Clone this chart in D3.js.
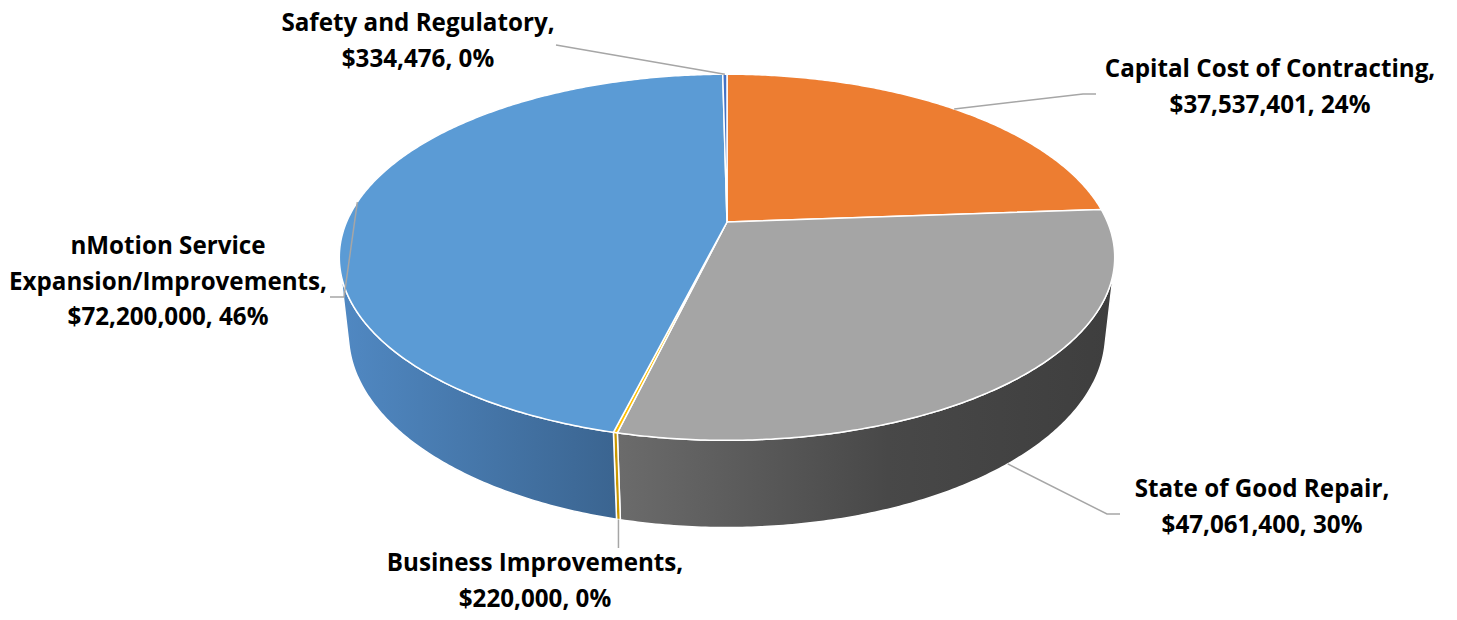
<!DOCTYPE html>
<html><head><meta charset="utf-8">
<script src="https://cdn.jsdelivr.net/npm/d3@7/dist/d3.min.js"></script>
<style>html,body{margin:0;padding:0;background:#fff;}svg{display:block;}</style>
</head><body>
<svg id="chart" width="1457" height="620"></svg>
<script>
// ---- data ----
const categories = ["Capital Cost of Contracting", "State of Good Repair", "Business Improvements", "nMotion Service Expansion/Improvements", "Safety and Regulatory"];
const values = [37537401, 47061400, 220000, 72200000, 334476];
const nameLines = [["Capital Cost of Contracting,"], ["State of Good Repair,"], ["Business Improvements,"], ["nMotion Service", "Expansion/Improvements,"], ["Safety and Regulatory,"]];
const topColors = ["#ED7D31", "#A5A5A5", "#FFC000", "#5B9BD5", "#4472C4"];
const sideStops = [
  [["0", "#B65F25"], ["1", "#8E4A1C"]],
  [["0", "#6C6C6C"], ["0.55", "#484848"], ["1", "#3E3E3E"]],
  [["0", "#C99700"], ["1", "#C99700"]],
  [["0", "#5088C2"], ["1", "#3B6591"]],
  [["0", "#35599A"], ["1", "#35599A"]]
];
// layout of labels: center x, first baseline y; leader path (elbow, end)
const labelPos = [[1270, 77], [1262, 497], [535, 571], [168, 254], [418, 31]];
const leaderPts = [[[1083, 94], [1096, 94]], [[1107, 514], [1120, 514]], [null, [0, 548]], [[344, 297], [330, 297]], [[556, 45]]];
const anchorOnBottom = [false, true, true, false, false];

// ---- projection (3D perspective pie) ----
const svg = d3.select("#chart");
const cx = 727, cy = 222, L = 4.6, k = 1750, alpha = 27.6 * Math.PI / 180, h = 0.23;
const cosA = Math.cos(alpha), sinA = Math.sin(alpha);
function proj(theta, y) {
  const X = Math.sin(theta), D = Math.cos(theta);
  const depth = L + D * cosA - y * sinA;
  const up = y * cosA + D * sinA;
  return [cx + k * X / depth, cy - k * up / depth];
}
function arcPts(a0, a1, y) {
  const n = Math.max(2, Math.ceil((a1 - a0) / 0.01));
  return d3.range(n + 1).map(i => proj(a0 + (a1 - a0) * i / n, y));
}
const line = d3.line();
const pie = d3.pie().sort(null).startAngle(0).endAngle(2 * Math.PI);
const arcs = pie(values);
const total = d3.sum(values);

const defs = svg.append("defs");
sideStops.forEach((stops, i) => {
  const g = defs.append("linearGradient").attr("id", "side" + i)
    .attr("gradientUnits", "userSpaceOnUse")
    .attr("x1", i === 1 ? 612 : 343).attr("x2", i === 1 ? 1113 : 612).attr("y1", 0).attr("y2", 0);
  stops.forEach(s => g.append("stop").attr("offset", s[0]).attr("stop-color", s[1]));
});

// visible outer wall range
const vis0 = Math.acos(-1 / (L * cosA)), vis1 = 2 * Math.PI - vis0;
const walls = svg.append("g");
arcs.forEach((a, i) => {
  const a0 = Math.max(a.startAngle, vis0), a1 = Math.min(a.endAngle, vis1);
  if (a1 <= a0) return;
  const pts = arcPts(a0, a1, 0).concat(arcPts(a0, a1, -h).reverse());
  walls.append("path").attr("d", line(pts) + "Z")
    .attr("fill", `url(#side${i})`).attr("stroke", "#fff").attr("stroke-width", 1.5).attr("stroke-linejoin", "round");
});

const tops = svg.append("g");
arcs.forEach((a, i) => {
  const center = [cx, cy];
  const rim = arcPts(a.startAngle, a.endAngle, 0);
  tops.append("path").attr("d", line([center].concat(rim)) + "Z")
    .attr("fill", topColors[i]).attr("stroke", "#fff").attr("stroke-width", 1.5).attr("stroke-linejoin", "round");
});

// ---- leaders and labels ----
const fmt = d3.format("$,");
const lg = svg.append("g");
arcs.forEach((a, i) => {
  const mid = (a.startAngle + a.endAngle) / 2;
  const anchor = proj(mid, anchorOnBottom[i] ? -h : 0);
  const pts = [anchor];
  leaderPts[i].forEach(p => {
    if (p === null) return;
    pts.push(p[0] === 0 ? [anchor[0], p[1]] : p);
  });
  lg.append("path").attr("d", line(pts)).attr("fill", "none")
    .attr("stroke", "#A6A6A6").attr("stroke-width", 1.5);
  const pct = Math.round(values[i] / total * 100) + "%";
  const lines = nameLines[i].concat([fmt(values[i]) + ", " + pct]);
  const t = lg.append("text").attr("text-anchor", "middle")
    .attr("font-family", "'Open Sans', 'Liberation Sans', sans-serif").attr("font-weight", "bold")
    .attr("font-size", 24.2).attr("fill", "#000");
  lines.forEach((s, j) => {
    t.append("tspan").attr("x", labelPos[i][0]).attr("y", labelPos[i][1] + j * 35.5).text(s);
  });
});
</script>
</body></html>
